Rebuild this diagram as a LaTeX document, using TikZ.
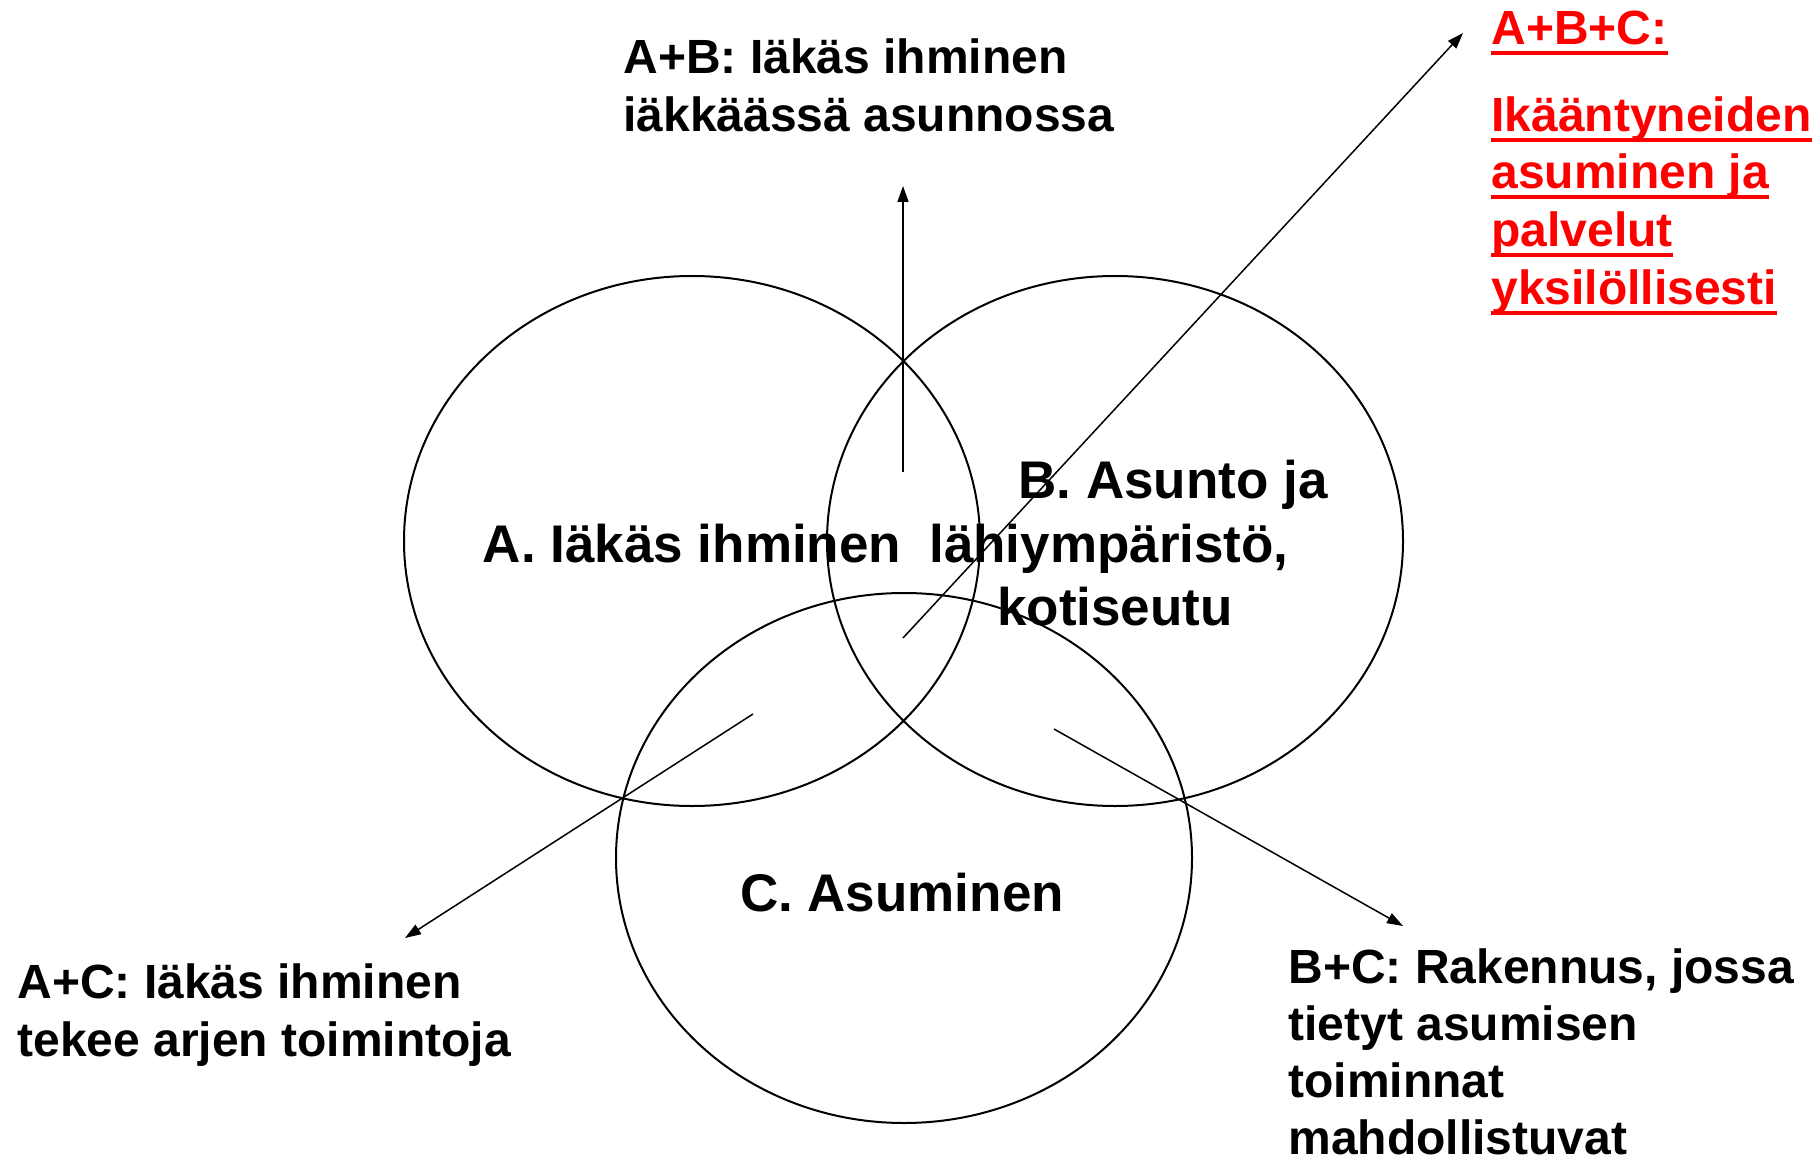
\documentclass[tikz,border=0pt]{standalone}
\usepackage{fontspec}
\setmainfont{Liberation Sans}
\usetikzlibrary{arrows.meta,shapes.geometric}
\begin{document}
\begin{tikzpicture}[x=0.5pt,y=-0.5pt,
  circ/.style={draw, ellipse, line width=1pt, minimum width=288pt, minimum height=265pt, inner sep=0pt},
  lbl/.style={anchor=base west, inner sep=0pt, font=\bfseries\fontsize{24pt}{29pt}\selectfont},
  redlbl/.style={lbl, text=red},
  mid/.style={anchor=base, inner sep=0pt, font=\bfseries\fontsize{26.5pt}{32pt}\selectfont},
  arr/.style={line width=0.75pt, -{Triangle[length=8pt,width=5.5pt]}},
  uline/.style={red, line width=2pt}]
\useasboundingbox (0,0) rectangle (1820,1160);
% circles
\node[circ] (A) at (692,541) {};
\node[circ] (B) at (1115,541) {};
\node[circ] (C) at (904,858) {};
% circle labels
\node[mid] (Alab) at (692,562) {A. Iäkäs ihminen};
\node[mid] (Blab1) at (1173,498) {B. Asunto ja};
\node[mid] (Blab2) at (1109,562) {lähiympäristö,};
\node[mid] (Blab3) at (1115,625) {kotiseutu};
\node[mid] (Clab) at (902,911) {C. Asuminen};
% A+B
\node[lbl] (ab1) at (623,74) {A+B: Iäkäs ihminen};
\node[lbl] (ab2) at (623,132) {iäkkäässä asunnossa};
% A+B+C
\node[redlbl] (abc1) at (1491,45) {A+B+C:};
\node[redlbl] (abc2) at (1491,132) {Ikääntyneiden};
\node[redlbl] (abc3) at (1491,189) {asuminen ja};
\node[redlbl] (abc4) at (1491,247) {palvelut};
\node[redlbl] (abc5) at (1491,305) {yksilöllisesti};
\foreach \n in {abc1,abc2,abc3,abc4,abc5}
  \draw[uline] ([yshift=-4pt]\n.base west) -- ([yshift=-4pt]\n.base east);
% A+C
\node[lbl] (ac1) at (17,998) {A+C: Iäkäs ihminen};
\node[lbl] (ac2) at (17,1056) {tekee arjen toimintoja};
% B+C
\node[lbl] (bc1) at (1288,983) {B+C: Rakennus, jossa};
\node[lbl] (bc2) at (1288,1040) {tietyt asumisen};
\node[lbl] (bc3) at (1288,1097) {toiminnat};
\node[lbl] (bc4) at (1288,1154) {mahdollistuvat};
% arrows
\coordinate (abS) at (903,472);
\coordinate (abE) at (903,186);
\coordinate (abcS) at (903,638);
\coordinate (abcE) at (1463,33);
\coordinate (acS) at (753,714);
\coordinate (acE) at (405,938);
\coordinate (bcS) at (1054,729);
\coordinate (bcE) at (1403,926);
\draw[arr] (abS) -- (abE);
\draw[arr] (abcS) -- (abcE);
\draw[arr] (acS) -- (acE);
\draw[arr] (bcS) -- (bcE);
\end{tikzpicture}
\end{document}
